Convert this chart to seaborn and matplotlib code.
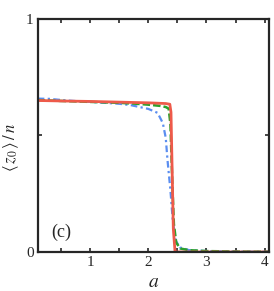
import numpy as np
import pandas as pd
import matplotlib
matplotlib.use('Agg')
import matplotlib.pyplot as plt
import seaborn as sns

sns.set_style('ticks')
plt.rcParams['font.family'] = ['Liberation Serif', 'DejaVu Serif']
plt.rcParams['mathtext.fontset'] = 'stix'

# values
a_red = [0.1, 0.5, 1.0, 1.5, 2.0, 2.3, 2.37, 2.39, 2.41, 2.43, 2.46, 2.5, 3.0, 3.5, 4.08]
z_red = [0.650, 0.648, 0.646, 0.643, 0.640, 0.637, 0.634, 0.60, 0.35, 0.10, 0.0, 0.0, 0.0, 0.0, 0.0]

a_green = [0.1, 0.5, 1.0, 1.5, 1.8, 2.0, 2.2, 2.3, 2.35, 2.38, 2.41, 2.44, 2.48, 2.55, 2.7, 3.0, 3.5, 4.08]
z_green = [0.652, 0.648, 0.644, 0.640, 0.636, 0.632, 0.627, 0.622, 0.615, 0.55, 0.32, 0.12, 0.04, 0.015, 0.008, 0.004, 0.002, 0.001]

a_blue = [0.1, 0.3, 0.6, 1.0, 1.5, 1.7, 2.0, 2.16, 2.25, 2.30, 2.33, 2.38, 2.42, 2.47, 2.54, 2.7, 3.0, 3.5, 4.08]
z_blue = [0.658, 0.657, 0.650, 0.644, 0.636, 0.630, 0.614, 0.597, 0.553, 0.49, 0.395, 0.266, 0.137, 0.05, 0.02, 0.008, 0.004, 0.002, 0.001]

df = pd.concat([
    pd.DataFrame({'a': a_blue, 'z': z_blue, 's': 'blue'}),
    pd.DataFrame({'a': a_green, 'z': z_green, 's': 'green'}),
    pd.DataFrame({'a': a_red, 'z': z_red, 's': 'red'}),
])

fig = plt.figure(figsize=(2.74, 2.91), dpi=100)
ax = fig.add_axes([0.1376, 0.134, 0.8454, 0.801])

styles = {
    'blue': dict(color='#5b8ef0', linestyle=(0, (3, 1.5, 1, 1.5)), lw=1.6),
    'green': dict(color='#2ca02c', linestyle=(0, (3, 1.2)), lw=1.8),
    'red': dict(color='#ee5a4a', linestyle='-', lw=2.0),
}
for key in ['blue', 'green', 'red']:
    sns.lineplot(data=df[df['s'] == key], x='a', y='z', ax=ax, **styles[key])

ax.set_xlim(0.1, 4.08)
ax.set_ylim(0, 1)
ax.set_xticks([1, 2, 3, 4])
ax.set_xticks([0.5, 1.5, 2.5, 3.5], minor=True)
ax.set_yticks([0, 1])
ax.set_yticks([0.5], minor=True)
ax.tick_params(direction='in', which='both', top=True, right=True,
               length=3, width=1.2, labelsize=11, pad=3)
for sp in ax.spines.values():
    sp.set_linewidth(1.6)

ax.set_xlabel(r'$a$', fontsize=14)
ax.xaxis.set_label_coords(0.5, -0.095)
ax.set_ylabel(r'$\langle\,z_0\,\rangle\,/\,n$', fontsize=12)
ax.yaxis.set_label_coords(-0.07, 0.45)
ax.text(0.33, 0.065, '(c)', fontsize=13, transform=ax.transData)

fig.savefig('out.png', dpi=100)
